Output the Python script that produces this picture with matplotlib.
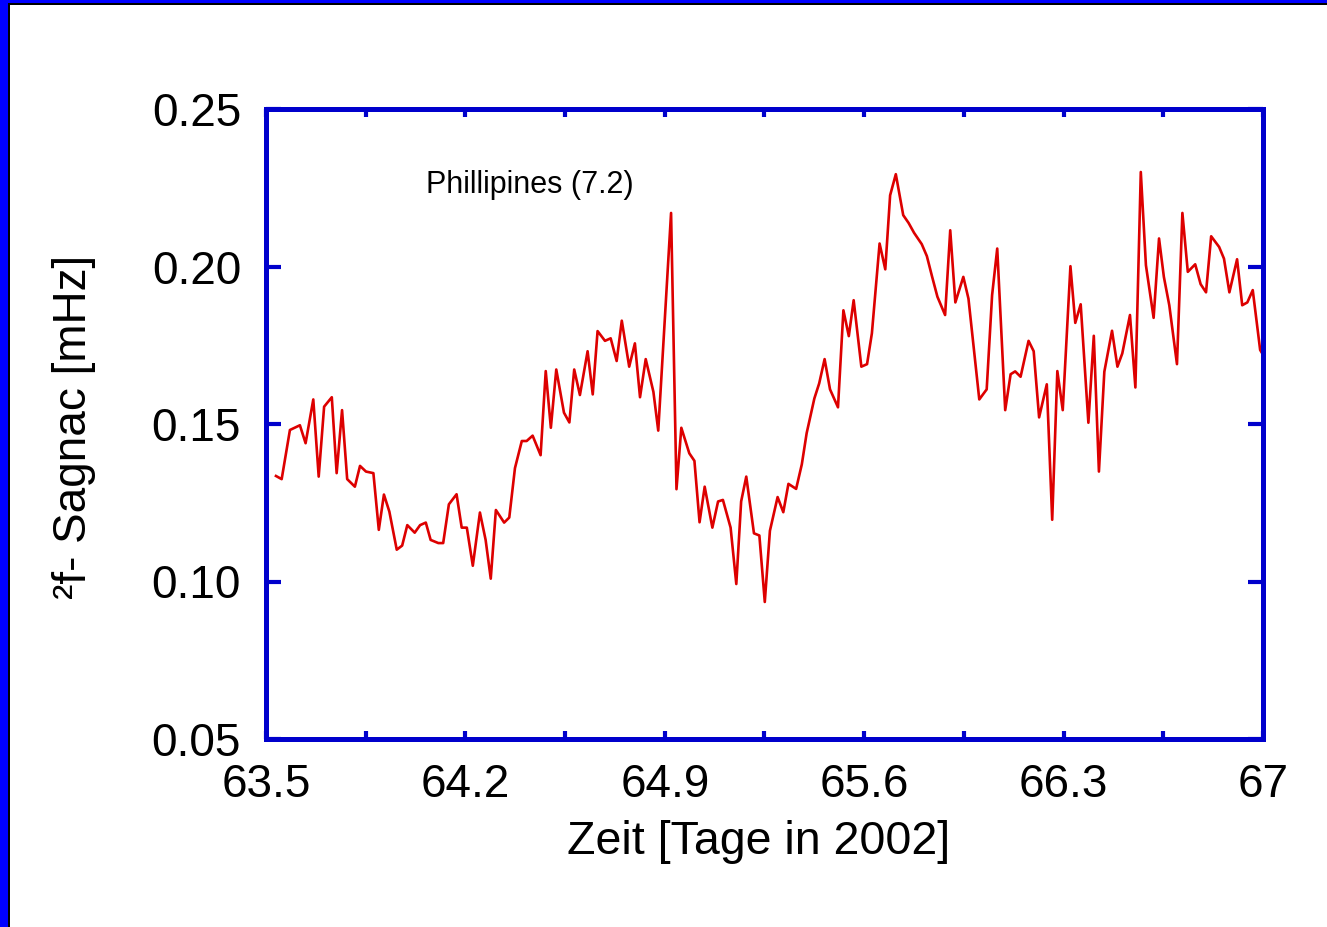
import matplotlib
matplotlib.use('Agg')
import matplotlib.pyplot as plt
from matplotlib.ticker import FixedLocator, FormatStrFormatter, FuncFormatter, MultipleLocator
from matplotlib.patches import Rectangle

plt.rcParams['font.family'] = ['Liberation Sans', 'DejaVu Sans']

# time in days of 2002 and Sagnac frequency deviation in mHz
t_days = [63.535, 63.555, 63.584, 63.619, 63.639, 63.666, 63.685, 63.704, 63.731, 63.748,
          63.767, 63.785, 63.812, 63.830, 63.851, 63.877, 63.896, 63.914, 63.933, 63.959,
          63.978, 63.996, 64.022, 64.041, 64.061, 64.078, 64.105, 64.122, 64.142, 64.169,
          64.187, 64.205, 64.226, 64.251, 64.271, 64.289, 64.307, 64.336, 64.354, 64.374,
          64.398, 64.415, 64.436, 64.464, 64.482, 64.500, 64.519, 64.546, 64.565, 64.582,
          64.602, 64.629, 64.647, 64.664, 64.690, 64.710, 64.731, 64.749, 64.775, 64.795,
          64.813, 64.833, 64.860, 64.877, 64.922, 64.941, 64.958, 64.986, 65.004, 65.022,
          65.040, 65.067, 65.087, 65.104, 65.131, 65.151, 65.168, 65.186, 65.213, 65.232,
          65.251, 65.269, 65.296, 65.316, 65.334, 65.361, 65.381, 65.398, 65.425, 65.442,
          65.461, 65.480, 65.508, 65.527, 65.546, 65.563, 65.590, 65.610, 65.627, 65.654,
          65.674, 65.691, 65.711, 65.737, 65.756, 65.775, 65.802, 65.820, 65.838, 65.857,
          65.884, 65.902, 65.920, 65.948, 65.966, 66.004, 66.030, 66.049, 66.067, 66.095,
          66.114, 66.130, 66.149, 66.177, 66.195, 66.214, 66.241, 66.260, 66.278, 66.297,
          66.324, 66.341, 66.360, 66.387, 66.406, 66.424, 66.443, 66.470, 66.489, 66.506,
          66.533, 66.552, 66.571, 66.589, 66.616, 66.635, 66.652, 66.671, 66.698, 66.717,
          66.736, 66.762, 66.781, 66.800, 66.818, 66.846, 66.863, 66.882, 66.909, 66.927,
          66.945, 66.964, 66.990, 67.000]
sagnac = [0.1335, 0.1325, 0.1481, 0.1496, 0.1439, 0.1578, 0.1333, 0.1555, 0.1585, 0.1344,
          0.1544, 0.1325, 0.1301, 0.1367, 0.1349, 0.1344, 0.1164, 0.1276, 0.1222, 0.1101,
          0.1114, 0.1179, 0.1155, 0.1179, 0.1187, 0.1132, 0.1122, 0.1122, 0.1245, 0.1277,
          0.1171, 0.1171, 0.1050, 0.1219, 0.1132, 0.1009, 0.1227, 0.1187, 0.1203, 0.1360,
          0.1446, 0.1446, 0.1463, 0.1401, 0.1668, 0.1488, 0.1673, 0.1536, 0.1505, 0.1673,
          0.1592, 0.1731, 0.1594, 0.1795, 0.1764, 0.1772, 0.1700, 0.1828, 0.1682, 0.1756,
          0.1585, 0.1706, 0.1602, 0.1479, 0.2170, 0.1293, 0.1488, 0.1407, 0.1383, 0.1188,
          0.1301, 0.1171, 0.1254, 0.1259, 0.1171, 0.0992, 0.1254, 0.1333, 0.1153, 0.1146,
          0.0935, 0.1161, 0.1268, 0.1220, 0.1310, 0.1294, 0.1372, 0.1471, 0.1581, 0.1629,
          0.1706, 0.1610, 0.1553, 0.1861, 0.1779, 0.1893, 0.1682, 0.1690, 0.1788, 0.2073,
          0.1991, 0.2226, 0.2293, 0.2163, 0.2138, 0.2107, 0.2071, 0.2033, 0.1969, 0.1904,
          0.1846, 0.2115, 0.1886, 0.1967, 0.1898, 0.1578, 0.1610, 0.1909, 0.2057, 0.1544,
          0.1658, 0.1667, 0.1650, 0.1764, 0.1731, 0.1521, 0.1626, 0.1196, 0.1668, 0.1544,
          0.2001, 0.1821, 0.1880, 0.1504, 0.1780, 0.1349, 0.1666, 0.1796, 0.1682, 0.1724,
          0.1846, 0.1616, 0.2300, 0.2004, 0.1837, 0.2089, 0.1967, 0.1877, 0.1690, 0.2170,
          0.1983, 0.2007, 0.1944, 0.1918, 0.2096, 0.2062, 0.2025, 0.1918, 0.2023, 0.1877,
          0.1886, 0.1925, 0.1735, 0.1720]

x_ticks = [63.5, 64.2, 64.9, 65.6, 66.3, 67.0]
x_minor = [63.85, 64.55, 65.25, 65.95, 66.65]

event_label = 'Phillipines (7.2)'
event_pos = (64.062, 0.2258)

BLUE = '#0000cc'
RED = '#dd0000'

fig = plt.figure(figsize=(13.27, 9.27), dpi=100)
fig.patch.set_facecolor('white')
# blue frame on the left and top edge of the slide
fig.add_artist(Rectangle((0, 0), 8/1327, 1, transform=fig.transFigure, color='#0000ff', lw=0))
fig.add_artist(Rectangle((8/1327, 0), 2/1327, 1 - 3/927, transform=fig.transFigure, color='black', lw=0))
fig.add_artist(Rectangle((0, 1 - 3/927), 1, 3/927, transform=fig.transFigure, color='#0000ff', lw=0))
fig.add_artist(Rectangle((8/1327, 1 - 5/927), 1, 2/927, transform=fig.transFigure, color='black', lw=0))

ax = fig.add_axes([266/1327, 1 - 739/927, 997/1327, 630/927])
ax.plot(t_days, sagnac, color=RED, lw=1.9)

ax.set_xlim(63.5, 67)
ax.set_ylim(0.05, 0.25)
ax.xaxis.set_major_locator(FixedLocator(x_ticks))
ax.xaxis.set_minor_locator(FixedLocator(x_minor))
ax.xaxis.set_major_formatter(FuncFormatter(lambda v, p: '%g' % round(v, 2)))
ax.yaxis.set_major_locator(MultipleLocator(0.05))
ax.yaxis.set_major_formatter(FormatStrFormatter('%.2f'))

for s in ax.spines.values():
    s.set_color(BLUE); s.set_linewidth(3.6)
ax.tick_params(axis='y', which='major', direction='in', length=11, width=3, color=BLUE,
               left=True, right=True, labelsize=33, pad=18)
ax.tick_params(axis='x', which='both', direction='in', length=6, width=3, color=BLUE,
               bottom=True, top=True, labelsize=33, pad=17)

ax.set_xlabel('Zeit [Tage in 2002]', fontsize=33.5)
ax.set_ylabel('²f- Sagnac [mHz]', fontsize=33)
ax.xaxis.set_label_coords(0.494, -0.128)
ax.yaxis.set_label_coords(-0.1705, 0.495)

ax.text(event_pos[0], event_pos[1], event_label, fontsize=22, ha='left', va='center')

fig.savefig('out.png', dpi=100, facecolor='white')
